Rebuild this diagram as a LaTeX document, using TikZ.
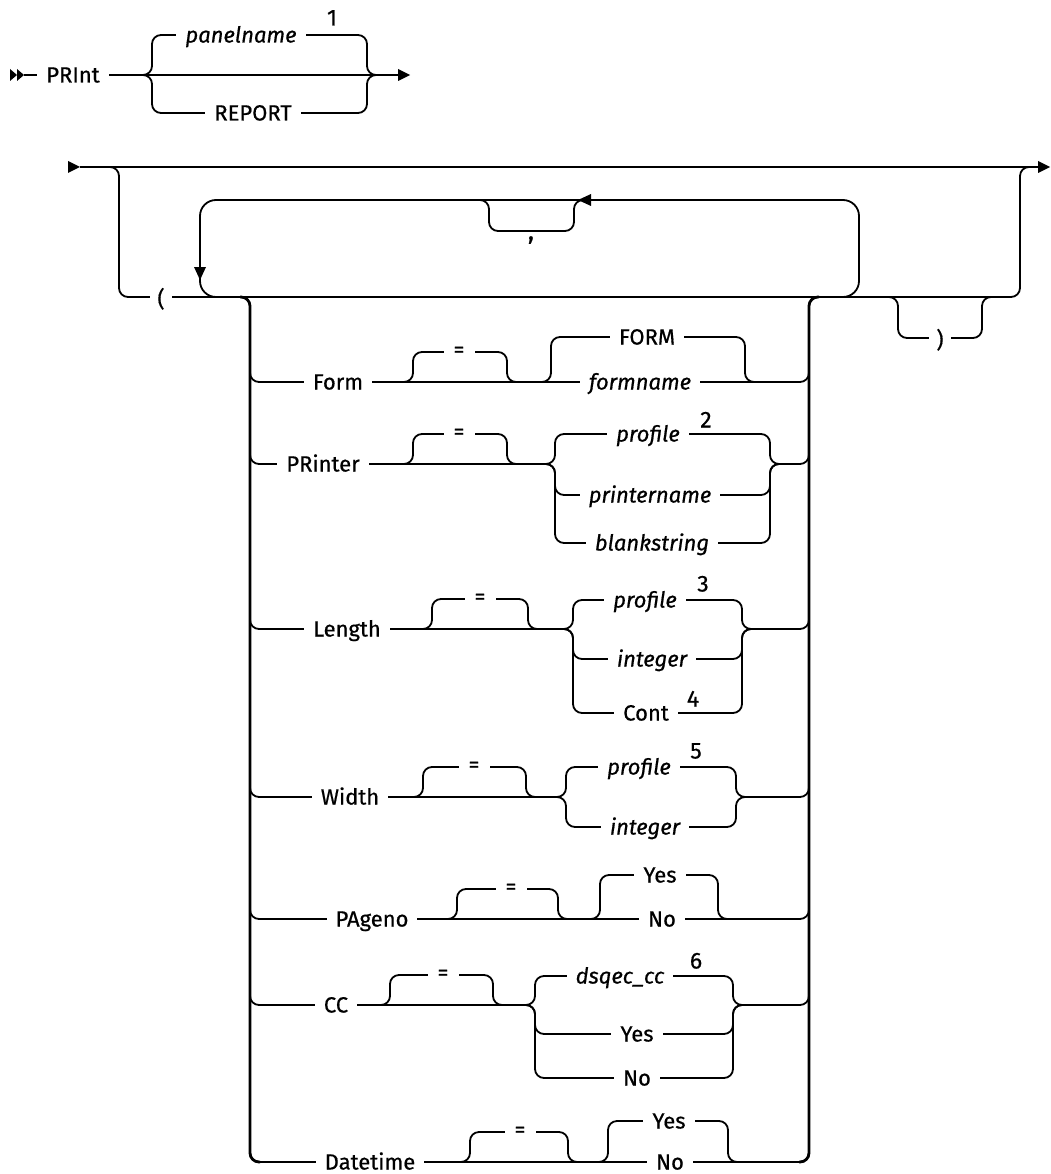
\documentclass[tikz,border=0pt]{standalone}
\usepackage{fontspec}
\setmainfont{Fira Sans}[UprightFeatures={FakeBold=0.6},ItalicFeatures={FakeBold=0.6}]
\newcommand\eqbr[5]{%
  \draw[ln] (#1-10,#3)--(#1,#3)--(#1,#3-30)--(#2,#3-30)--(#2,#3)--(#2+10,#3);
  \node[eqs] (#5) at (#4,#3-30) {=};}
\newcommand\brbr[4]{%
  \draw[ln] (#1-10,#3)--(#1,#3)--(#1,#4)--(#2,#4)--(#2,#3)--(#2+10,#3);}
\begin{document}
\begin{tikzpicture}[x=1pt,y=-1pt,
  ln/.style={line width=1.8pt, rounded corners=9pt},
  thk/.style={line width=2.8pt, rounded corners=9pt},
  lab/.style={anchor=base, yshift=-7.5pt, fill=white, inner xsep=9pt, inner ysep=0pt, font=\fontsize{22}{22}\selectfont},
  var/.style={lab, font=\fontsize{22}{22}\selectfont\itshape},
  pun/.style={lab, inner xsep=7pt},
  eqs/.style={lab, inner xsep=10pt, yshift=2.5pt},
  fn/.style={anchor=base, yshift=-7.5pt, inner sep=0pt, font=\fontsize{23}{23}\selectfont}]
\useasboundingbox (0,0) rectangle (1050,1174);

% ---- first line: PRInt
\fill (10,69)--(17,75)--(10,81)--cycle;
\fill (17,69)--(24,75)--(17,81)--cycle;
\draw[ln] (24,75)--(399,75);
\fill (398,69)--(410,75)--(398,81)--cycle;
\draw[ln] (142,75)--(152,75)--(152,35)--(367,35)--(367,75)--(377,75);
\draw[ln] (142,75)--(152,75)--(152,113)--(367,113)--(367,75)--(377,75);
\node[lab] (print) at (73,75) {PRInt};
\node[var] (panel) at (241,35) {panelname};
\node[fn] (f1) at (332,18) {1};
\node[lab] (report) at (253,113) {REPORT};

% ---- second line: option group
\fill (68,161)--(80,167)--(68,173)--cycle;
\draw[ln] (80,167)--(1040,167);
\fill (1038,161)--(1050,167)--(1038,173)--cycle;
\draw[ln] (100,167)--(119,167)--(119,297)--(1020,297)--(1020,167)--(1040,167);
\node[pun] (lp) at (161,299) {(};
% repeat loop
\draw[ln, rounded corners=16pt] (843,297)--(859,297)--(859,200)--(200,200)--(200,297)--(216,297);
\fill (194,267)--(200,280)--(206,267)--cycle;
\fill (591,194)--(578,200)--(591,206)--cycle;
\draw[ln] (478,200)--(489,200)--(489,231)--(574,231)--(574,200)--(585,200);
\node[pun, inner xsep=6pt, font=\fontsize{26}{26}\selectfont] (comma) at (531,232) {,};
% closing paren
\draw[ln] (888,297)--(898,297)--(898,338)--(982,338)--(982,297)--(992,297);
\node[pun] (rp) at (940,340) {)};

% item rails
\draw[thk] (240,297)--(250,297)--(250,1162)--(260,1162);
\draw[thk] (799,1162)--(809,1162)--(809,297)--(819,297);

% Form
\draw[ln] (250,362)--(250,382)--(809,382)--(809,362);
\eqbr{413}{507}{382}{459}{e1}
\brbr{551}{745}{382}{337}
\node[lab] (form) at (338,382) {Form};
\node[lab] (FORM) at (647,337) {FORM};
\node[var] (formname) at (640,382) {formname};

% PRinter
\draw[ln] (250,444)--(250,464)--(545,464);
\draw[ln] (780,464)--(809,464)--(809,444);
\eqbr{413}{507}{464}{459}{e2}
\brbr{555}{770}{464}{434}
\brbr{555}{770}{464}{495}
\brbr{555}{770}{464}{543}
\node[lab] (printer) at (323,464) {PRinter};
\node[var] (prof2) at (648,434) {profile};
\node[fn] (f2) at (706,420) {2};
\node[var] (pname) at (650,495) {printername};
\node[var] (blank) at (652,543) {blankstring};

% Length
\draw[ln] (250,609)--(250,629)--(563,629);
\draw[ln] (752,629)--(809,629)--(809,609);
\eqbr{432}{528}{629}{480}{e3}
\brbr{573}{742}{629}{600}
\brbr{573}{742}{629}{659}
\brbr{573}{742}{629}{713}
\node[lab] (length) at (347,629) {Length};
\node[var] (prof3) at (645,600) {profile};
\node[fn] (f3) at (703,584) {3};
\node[var] (int3) at (652,659) {integer};
\node[lab] (cont) at (646,713) {Cont};
\node[fn] (f4) at (693,699) {4};

% Width
\draw[ln] (250,777)--(250,797)--(556,797);
\draw[ln] (746,797)--(809,797)--(809,777);
\eqbr{423}{526}{797}{474}{e4}
\brbr{566}{736}{797}{767}
\brbr{566}{736}{797}{827}
\node[lab] (width) at (350,797) {Width};
\node[var] (prof5) at (639,767) {profile};
\node[fn] (f5) at (696,751) {5};
\node[var] (int5) at (645,827) {integer};

% PAgeno
\draw[ln] (250,899)--(250,919)--(809,919)--(809,899);
\eqbr{457}{558}{919}{511}{e5}
\brbr{600}{718}{919}{875}
\node[lab] (pageno) at (372,919) {PAgeno};
\node[lab] (pyes) at (660,875) {Yes};
\node[lab] (pno) at (662,919) {No};

% CC
\draw[ln] (250,985)--(250,1005)--(525,1005);
\draw[ln] (743,1005)--(809,1005)--(809,985);
\eqbr{390}{493}{1005}{443}{e6}
\brbr{535}{733}{1005}{976}
\brbr{535}{733}{1005}{1034}
\brbr{535}{733}{1005}{1078}
\node[lab] (cc) at (336,1005) {CC};
\node[var] (dsq) at (620,976) {dsqec\_cc};
\node[fn] (f6) at (696,961) {6};
\node[lab] (cyes) at (637,1034) {Yes};
\node[lab] (cno) at (637,1078) {No};

% Datetime
\draw[ln] (250,1142)--(250,1162)--(809,1162)--(809,1142);
\eqbr{470}{568}{1162}{520}{e7}
\brbr{608}{728}{1162}{1121}
\node[lab] (datetime) at (370,1162) {Datetime};
\node[lab] (dyes) at (669,1121) {Yes};
\node[lab] (dno) at (670,1162) {No};
\end{tikzpicture}
\end{document}
